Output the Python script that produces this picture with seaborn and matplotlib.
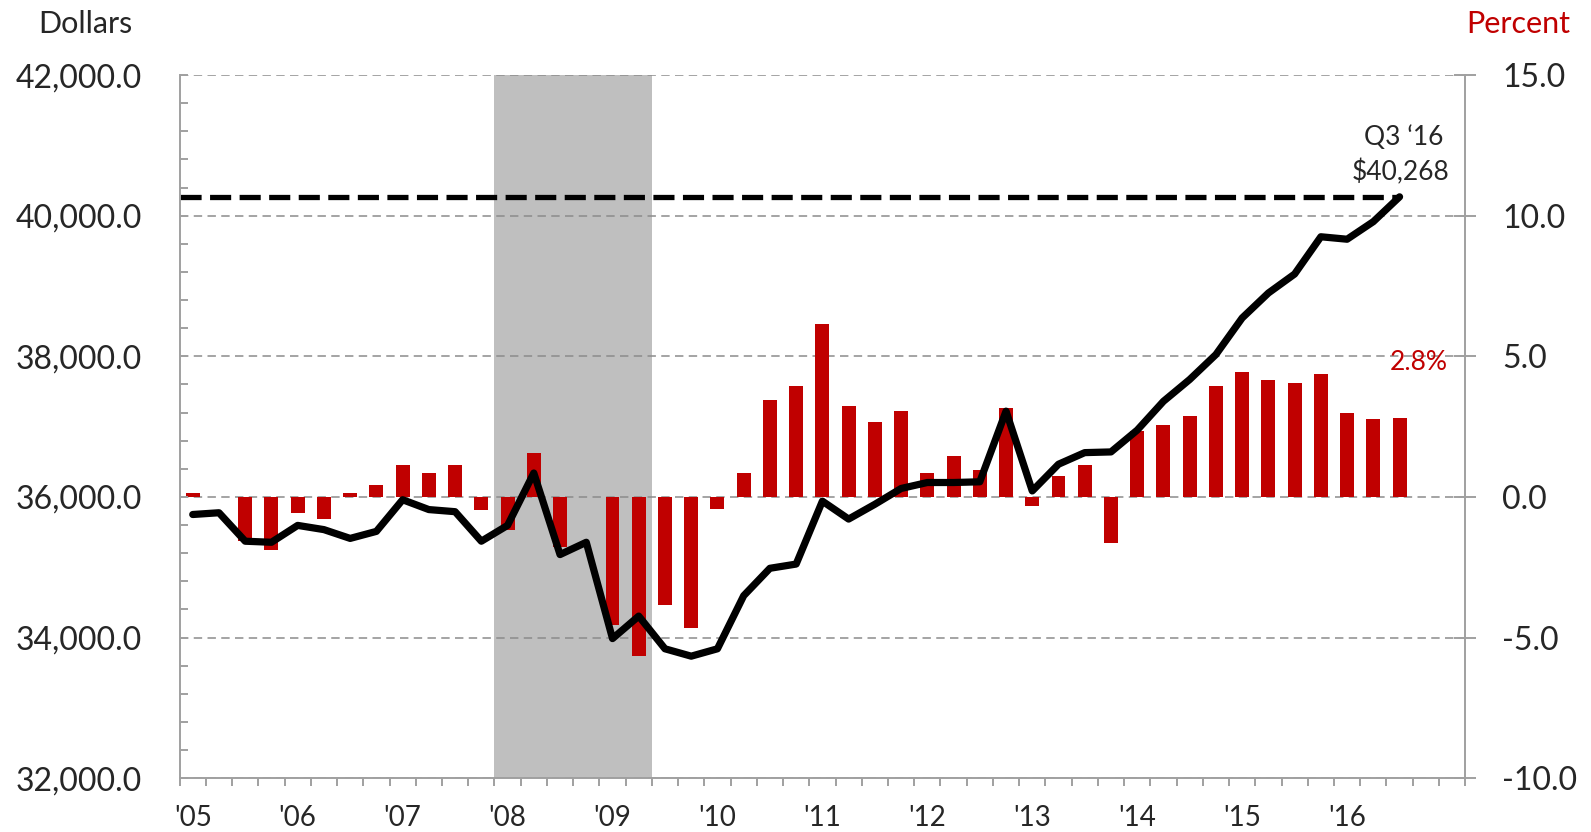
import numpy as np
import pandas as pd
import matplotlib
matplotlib.use('Agg')
import matplotlib.pyplot as plt
from matplotlib.ticker import MultipleLocator, StrMethodFormatter
import seaborn as sns

### Données : trimestres 2005 T1 -> 2016 T3 ###

quarters = [f"{y}Q{q}" for y in range(2005, 2017) for q in range(1, 5)][:47]

# Variation en pourcentage (barres, axe de droite)
pct_change = [0.15, 0.0, -1.57, -1.87, -0.57, -0.77, 0.14, 0.44,
              1.13, 0.85, 1.13, -0.47, -1.18, 1.56, -1.78, 0.0,
              -4.56, -5.65, -3.83, -4.65, -0.44, 0.84, 3.45, 3.93,
              6.15, 3.24, 2.65, 3.04, 0.84, 1.45, 0.94, 3.15,
              -0.34, 0.75, 1.14, -1.64, 2.35, 2.55, 2.86, 3.95,
              4.45, 4.15, 4.05, 4.36, 2.97, 2.77, 2.8]

# Niveau en dollars (ligne, axe de gauche)
dollars = [35750, 35775, 35370, 35355, 35595, 35535, 35410, 35510,
           35960, 35820, 35790, 35370, 35595, 36340, 35180, 35355,
           33985, 34305, 33840, 33735, 33840, 34595, 34985, 35045,
           35940, 35685, 35895, 36120, 36205, 36205, 36215, 37220,
           36085, 36465, 36630, 36640, 36950, 37360, 37670, 38025,
           38545, 38900, 39170, 39700, 39665, 39915, 40268]

year_labels = ["'05", "'06", "'07", "'08", "'09", "'10",
               "'11", "'12", "'13", "'14", "'15", "'16"]

# Récession (premier et dernier trimestre)
recession = ["2008Q1", "2009Q2"]

df = pd.DataFrame({'quarter': quarters, 'pct': pct_change, 'dollars': dollars})
df['slot'] = np.arange(len(df))

RED = '#C00000'
GREY = '#A0A0A0'

sns.set_theme(style='white')
plt.rcParams['font.family'] = ['Lato', 'DejaVu Sans']
plt.rcParams['axes.unicode_minus'] = False

fig = plt.figure(figsize=(15.91, 8.32), dpi=100)
ax = fig.add_axes([0.1129, 0.0647, 0.8080, 0.8451])
ax2 = ax.twinx()

### Barres (axe en pourcentage, à droite) ###
r0 = quarters.index(recession[0]) - 0.5
r1 = quarters.index(recession[1]) + 0.5
ax.axvspan(r0, r1, color='#BFBFBF', zorder=0, lw=0)

sns.barplot(data=df, x='slot', y='pct', native_scale=True, color=RED,
            saturation=1, width=0.53, ax=ax, zorder=3, linewidth=0)

ax.set_xlim(-0.5, 48.5)
ax.set_ylim(-10, 15)
ax.yaxis.tick_right()
ax.yaxis.set_major_locator(MultipleLocator(5))
ax.yaxis.set_major_formatter(StrMethodFormatter('{x:.1f}'))
ax.set_axisbelow(True)
ax.grid(axis='y', color='#8C8C8C', linestyle=(0, (5.5, 3.5)), linewidth=1.1)
ax.grid(axis='x', visible=False)
ax.tick_params(axis='y', direction='inout', length=16, width=1.4, color=GREY,
               pad=18.6, labelsize=23, left=False, right=True,
               labelleft=False, labelright=True)
ax.set_xticks(np.arange(0, 48, 4))
ax.set_xticklabels(year_labels)
ax.set_xticks(np.arange(-0.5, 49, 1), minor=True)
ax.tick_params(axis='x', which='major', length=0, pad=19, labelsize=20)
ax.tick_params(axis='x', which='minor', direction='out', length=5.8,
               width=1.4, color=GREY, bottom=True)
ax.set_xlabel('')
ax.set_ylabel('')
for side in ['top', 'left']:
    ax.spines[side].set_visible(False)
for side in ['right', 'bottom']:
    ax.spines[side].set_color(GREY)
    ax.spines[side].set_linewidth(1.4)

### Ligne (axe en dollars, à gauche) ###
last = df.iloc[-1]
ax2.hlines(last['dollars'], -0.5, last['slot'], colors='black',
           linestyles=(0, (4, 1.6)), linewidth=3.8, zorder=2)
sns.lineplot(data=df, x='slot', y='dollars', ax=ax2, color='black',
             linewidth=5.2, zorder=4)

ax2.set_ylim(32000, 42000)
ax2.yaxis.tick_left()
ax2.yaxis.set_major_locator(MultipleLocator(2000))
ax2.yaxis.set_minor_locator(MultipleLocator(400))
ax2.yaxis.set_major_formatter(StrMethodFormatter('{x:,.1f}'))
ax2.tick_params(axis='y', which='both', direction='in', length=5.8, width=1.4,
                color=GREY, left=True, right=False, labelleft=True,
                labelright=False, pad=27, labelsize=23)
ax2.grid(False)
ax2.set_xlabel('')
ax2.set_ylabel('')
for side in ['top', 'right', 'bottom']:
    ax2.spines[side].set_visible(False)
ax2.spines['left'].set_color(GREY)
ax2.spines['left'].set_linewidth(1.4)
ax2.set_xlim(-0.5, 48.5)

### Annotations ###
ax2.annotate("Q3 \u201816", xy=(last['slot'], last['dollars']), xytext=(3, 43),
             textcoords='offset points', ha='center', va='center', fontsize=19)
ax2.annotate(f"${last['dollars']:,.0f}", xy=(last['slot'], last['dollars']),
             xytext=(0.7, 18), textcoords='offset points', ha='center',
             va='center', fontsize=19)
ax.annotate(f"{pct_change[-1]:.1f}%", xy=(last['slot'], pct_change[-1]),
            xytext=(14, 40), textcoords='offset points', ha='center',
            va='center', fontsize=19, color=RED)

fig.text(85 / 1591, 1 - 24.4 / 832, 'Dollars', ha='center', va='center', fontsize=22)
fig.text(1518 / 1591, 1 - 24.4 / 832, 'Percent', ha='center', va='center',
         fontsize=22, color=RED)

fig.savefig('out.png', dpi=100)
